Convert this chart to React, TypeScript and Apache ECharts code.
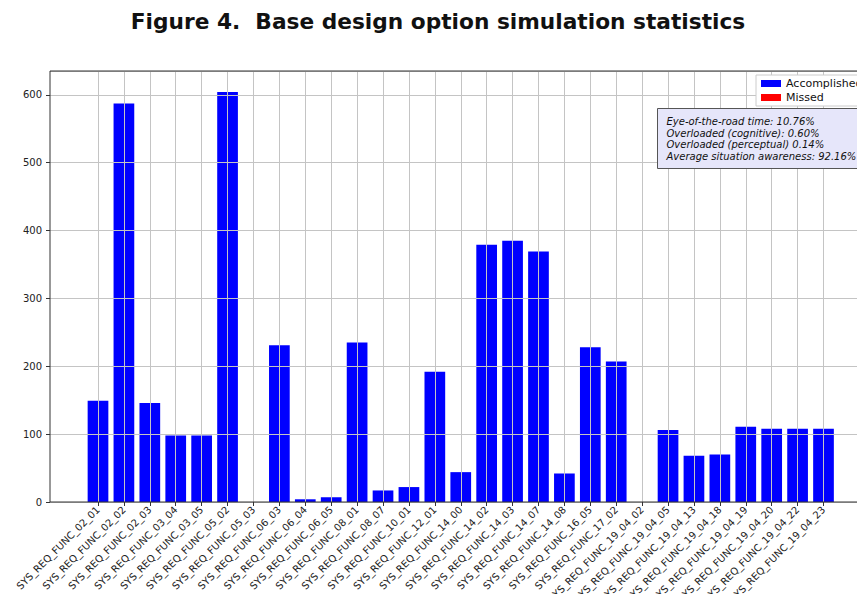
import React, { useEffect, useRef } from "react";
import * as echarts from "echarts";

const titleText = "Figure 4.  Base design option simulation statistics";

const categories = [
  "SYS_REQ_FUNC_02_01", "SYS_REQ_FUNC_02_02", "SYS_REQ_FUNC_02_03", "SYS_REQ_FUNC_03_04",
  "SYS_REQ_FUNC_03_05", "SYS_REQ_FUNC_05_02", "SYS_REQ_FUNC_05_03", "SYS_REQ_FUNC_06_03",
  "SYS_REQ_FUNC_06_04", "SYS_REQ_FUNC_06_05", "SYS_REQ_FUNC_08_01", "SYS_REQ_FUNC_08_07",
  "SYS_REQ_FUNC_10_01", "SYS_REQ_FUNC_12_01", "SYS_REQ_FUNC_14_00", "SYS_REQ_FUNC_14_02",
  "SYS_REQ_FUNC_14_03", "SYS_REQ_FUNC_14_07", "SYS_REQ_FUNC_14_08", "SYS_REQ_FUNC_16_05",
  "SYS_REQ_FUNC_17_02", "SYS_REQ_FUNC_19_04_02", "SYS_REQ_FUNC_19_04_05", "SYS_REQ_FUNC_19_04_13",
  "SYS_REQ_FUNC_19_04_18", "SYS_REQ_FUNC_19_04_19", "SYS_REQ_FUNC_19_04_20", "SYS_REQ_FUNC_19_04_22",
  "SYS_REQ_FUNC_19_04_23",
];

const accomplished = [
  149, 587, 146, 98, 98, 604, 0, 231, 4, 7, 235, 17, 22, 192, 44, 379,
  385, 369, 42, 228, 207, 0, 106, 68, 70, 111, 108, 108, 108,
];

const missed = [
  0, 0, 0, 0, 0, 0, 0, 0, 0, 0, 0, 0, 0, 0, 0, 0,
  0, 0, 0, 0, 0, 0, 0, 0, 0, 0, 0, 0, 0,
];

const seriesNames = ["Accomplished", "Missed"];

const annotationLines = [
  "Eye-of-the-road time: 10.76%",
  "Overloaded (cognitive): 0.60%",
  "Overloaded (perceptual) 0.14%",
  "Average situation awareness: 92.16%",
];

const Y_MAX = 635;
const FONT = "DejaVu Sans, Verdana, sans-serif";

export default function App() {
  const ref = useRef<HTMLDivElement>(null);

  useEffect(() => {
    if (!ref.current) return;
    const chart = echarts.init(ref.current, null, { renderer: "svg" });
    const gridColor = "#c4c4c4";
    chart.setOption({
      animation: false,
      backgroundColor: "#ffffff",
      textStyle: { fontFamily: FONT },
      title: {
        text: titleText,
        left: 433,
        textAlign: "center",
        top: 5,
        textStyle: { fontSize: 21.7, fontWeight: "bold", color: "#111", fontFamily: FONT },
      },
      legend: {
        data: seriesNames,
        orient: "vertical",
        left: 756,
        top: 75,
        itemWidth: 20,
        itemHeight: 7,
        itemGap: 3,
        icon: "rect",
        padding: [3, 8, 3, 5],
        borderColor: "#cccccc",
        borderWidth: 1,
        backgroundColor: "#ffffff",
        textStyle: { fontSize: 11, color: "#111", fontFamily: FONT },
        z: 10,
      },
      grid: [
        { left: 50, right: 9, top: 71, bottom: 92, show: true, borderColor: "#333", borderWidth: 1, backgroundColor: "transparent", z: 6, outerBoundsMode: "none", containLabel: false },
        { left: 98, right: 56.5, top: 71, bottom: 92, outerBoundsMode: "none", containLabel: false },
      ],
      xAxis: [
        { type: "value", gridIndex: 0, show: false, min: 0, max: 1 },
        {
          type: "category",
          gridIndex: 1,
          data: categories,
          boundaryGap: false,
          z: 3,
          axisLine: { show: false },
          axisTick: { show: true, length: 4, lineStyle: { color: "#333" }, interval: 0 },
          axisLabel: {
            interval: 0,
            rotate: 45,
            fontSize: 10,
            color: "#222",
            margin: 6,
            fontFamily: FONT,
          },
          splitLine: { show: true, interval: 0, lineStyle: { color: gridColor, width: 1 } },
        },
      ],
      yAxis: [
        {
          type: "value",
          gridIndex: 0,
          min: 0,
          max: Y_MAX,
          interval: 100,
          z: 3,
          axisLine: { show: false },
          axisTick: { show: true, length: 4, lineStyle: { color: "#333" } },
          axisLabel: {
            fontSize: 10,
            color: "#222",
            margin: 8,
            fontFamily: FONT,
            showMaxLabel: false,
          },
          splitLine: { show: true, lineStyle: { color: gridColor, width: 1 } },
        },
        { type: "value", gridIndex: 1, min: 0, max: Y_MAX, show: false, splitLine: { show: false } },
      ],
      series: [
        {
          name: seriesNames[0],
          type: "bar",
          xAxisIndex: 1,
          yAxisIndex: 1,
          stack: "total",
          data: accomplished,
          barWidth: 20.7,
          clip: false,
          itemStyle: { color: "#0000ff" },
        },
        {
          name: seriesNames[1],
          type: "bar",
          xAxisIndex: 1,
          yAxisIndex: 1,
          stack: "total",
          data: missed,
          barWidth: 20.7,
          clip: false,
          itemStyle: { color: "#ff0000" },
        },
      ],
      graphic: [
        {
          type: "group",
          left: 657,
          top: 108,
          z: 100,
          children: [
            {
              type: "rect",
              z: 100,
              shape: { x: 0, y: 0, width: 240, height: 60 },
              style: { fill: "#e6e6fa", stroke: "#555", lineWidth: 1 },
            },
            ...annotationLines.map((line, i) => ({
              type: "text",
              z: 101,
              x: 9,
              y: 8 + i * 11.5,
              style: {
                text: line,
                fontSize: 10,
                fontStyle: "italic",
                fontFamily: FONT,
                fill: "#111",
              },
            })),
          ],
        },
      ],
    });
    return () => chart.dispose();
  }, []);

  return (
    <div style={{ position: "fixed", left: 0, top: 0, width: 857, height: 594, overflow: "hidden", background: "#fff" }}>
      <div ref={ref} style={{ width: 880, height: 594 }} />
    </div>
  );
}
